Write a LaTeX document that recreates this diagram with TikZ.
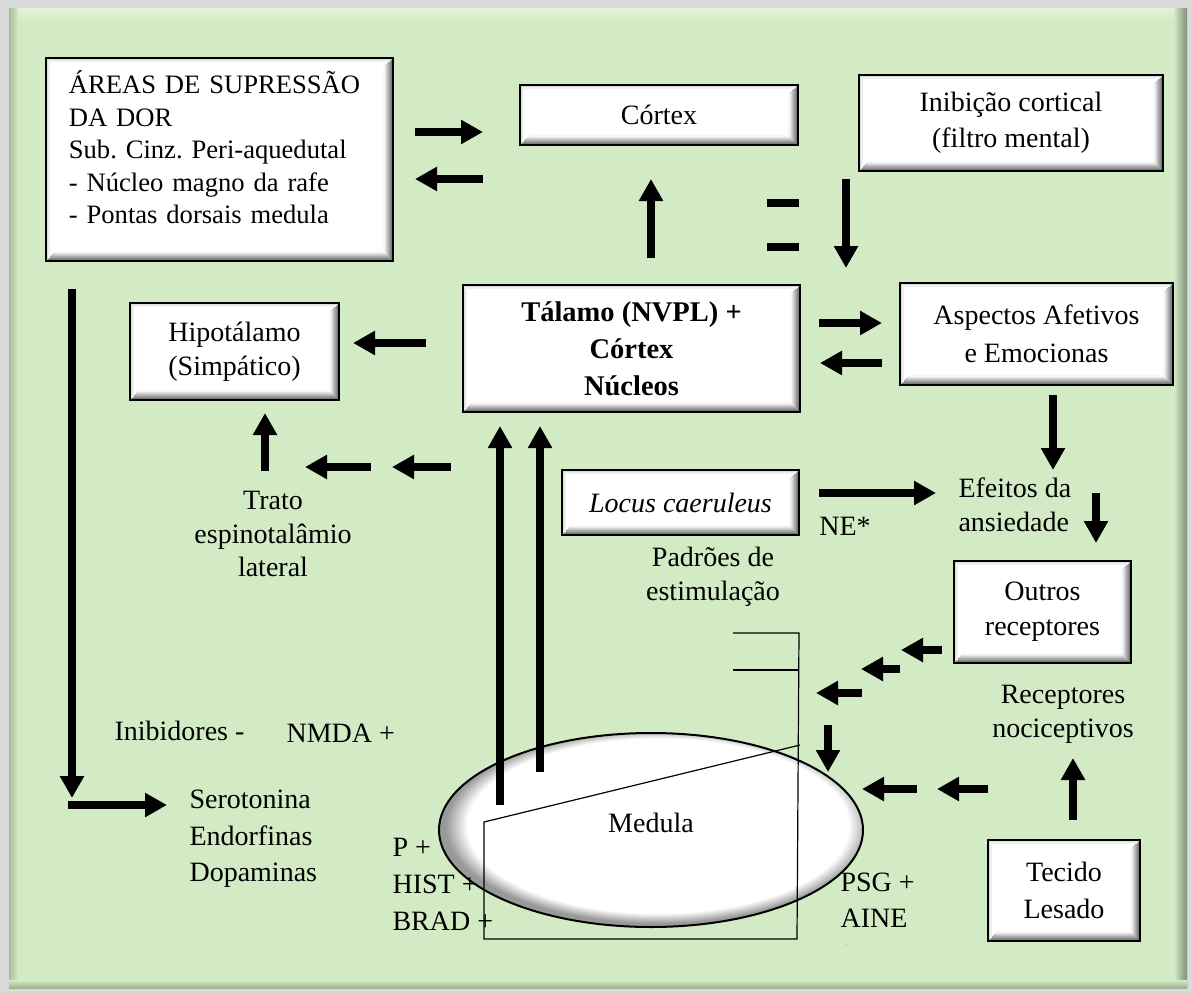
\documentclass[tikz,border=0pt]{standalone}
\usepackage{fontspec}
\setmainfont{Liberation Serif}
\usetikzlibrary{arrows.meta}
\usetikzlibrary{shapes.geometric}
\usetikzlibrary{calc}
\frenchspacing

\definecolor{fundo}{RGB}{210,235,196}
\definecolor{moldura}{RGB}{217,217,217}
\pgfdeclareradialshading{aro}{\pgfpoint{1.5bp}{2bp}}{color(0bp)=(white); color(22.5bp)=(white); color(25bp)=(black!40); color(50bp)=(black!40)}

\tikzset{
  caixa/.style={draw=black, line width=1.8pt, fill=white, align=center, inner sep=0pt,
    path picture={
      \foreach \k [evaluate=\k as \g using int(66-7*\k)] in {1,...,9}
        \draw[black!\g, line width=1.2pt]
          ([xshift=\k pt, yshift=\k pt]path picture bounding box.south west)
          -- ([xshift=-\k pt, yshift=\k pt]path picture bounding box.south east)
          -- ([xshift=-\k pt, yshift=-\k pt]path picture bounding box.north east);
      \foreach \k [evaluate=\k as \g using int(30-8*\k)] in {1,...,3}
        \draw[black!\g, line width=1.2pt]
          ([xshift=\k pt, yshift=\k pt]path picture bounding box.south west)
          -- ([xshift=\k pt, yshift=-\k pt]path picture bounding box.north west)
          -- ([xshift=-\k pt, yshift=-\k pt]path picture bounding box.north east);
    }},
  seta/.style={line width=8.5pt, -{Triangle[width=23pt,length=22pt]}},
  barra/.style={line width=8pt},
  fino/.style={line width=1.2pt}
}

\begin{document}
\begin{tikzpicture}[x=1pt, y=-1pt, font=\fontsize{28}{34}\selectfont]
\useasboundingbox (0,0) rectangle (1192,993);
\fill[moldura] (0,0) rectangle (1192,993);
\fill[fundo] (9,8) rectangle (1187,988);
\shade[top color=fundo!60!white, bottom color=fundo] (9,8) rectangle (1187,20);
\shade[left color=fundo!80!black, right color=fundo] (9,8) rectangle (18,988);
\shade[left color=fundo, right color=fundo!60!black] (1174,8) rectangle (1187,988);
\shade[top color=fundo, bottom color=fundo!75!black] (9,980) rectangle (1187,988);

% caixas
\node[caixa, anchor=north west, text width=301pt, align=left, inner xsep=23pt, inner ysep=12pt,
  text height=24pt, text depth=155pt, font=\fontsize{26.6}{32.5}\selectfont] (areas) at (45,57)
  {ÁREAS DE SUPRESSÃO\\DA DOR\\Sub. Cinz. Peri-aquedutal\\- Núcleo magno da rafe\\- Pontas dorsais medula};
\node[caixa, minimum width=278pt, minimum height=60pt] (cortex) at (659,115) {Córtex};
\node[caixa, minimum width=304pt, minimum height=96pt, font=\fontsize{28}{36}\selectfont] (inibicao) at (1011,123) {Inibição cortical\\(filtro mental)};
\node[caixa, minimum width=273pt, minimum height=102pt, font=\fontsize{28}{38}\selectfont] (aspectos) at (1036.5,334) {Aspectos Afetivos\\e Emocionas};
\node[caixa, minimum width=337pt, minimum height=127pt, font=\fontsize{28.5}{37}\selectfont\bfseries] (talamo) at (631.5,348.5) {Tálamo (NVPL) +\\Córtex\\Núcleos};
\node[caixa, minimum width=209pt, minimum height=97pt] (hipotalamo) at (234.5,351.5) {Hipotálamo\\(Simpático)};
\node[caixa, minimum width=237pt, minimum height=65pt, font=\fontsize{28}{34}\selectfont\itshape] (locus) at (680.5,502.5) {Locus caeruleus};
\node[caixa, minimum width=177pt, minimum height=102pt, font=\fontsize{28}{35}\selectfont] (outros) at (1042.5,612) {Outros\\receptores};
\node[caixa, minimum width=152pt, minimum height=101pt, font=\fontsize{28}{37}\selectfont] (tecido) at (1064,890.5) {Tecido\\Lesado};

\node[draw, ellipse, line width=2pt, minimum width=424pt, minimum height=194pt, inner sep=0pt,
  shade, shading=aro, text depth=14pt] (medula) at (651,830) {Medula};

% textos soltos
\node[align=center, font=\fontsize{28}{33.5}\selectfont] (trato) at (273,534) {Trato\\espinotalâmio\\lateral};
\node[align=center, font=\fontsize{28}{34}\selectfont] (padroes) at (713,577) {Padrões de\\estimulação};
\node (ne) at (845,526) {NE*};
\node[align=left, anchor=west] (efeitos) at (955,505) {Efeitos da\\ansiedade};
\node[align=center] (nocic) at (1063,714) {Receptores\\nociceptivos};
\node[anchor=base west] (inib) at (111,740) {Inibidores -};
\node[anchor=base west] (nmda) at (283,742) {NMDA +};
\node[align=left, anchor=west, font=\fontsize{28}{36.5}\selectfont] (neuro) at (186,839) {Serotonina\\Endorfinas\\Dopaminas};
\node[align=left, anchor=west, font=\fontsize{28}{37}\selectfont] (mediad) at (389,884) {P +\\HIST +\\BRAD +};
\node[align=left, anchor=west, font=\fontsize{28}{36}\selectfont] (psg) at (837,900) {PSG +\\AINE};
\node[font=\tiny] (ponto) at (847,945) {.};

% linhas finas
\coordinate (f1) at (733,633);
\coordinate (f2) at (799,633);
\coordinate (f3) at (733,670);
\coordinate (f4) at (798,670);
\coordinate (f5) at (797,939);
\coordinate (f6) at (484,939);
\coordinate (f7) at (484,822);
\coordinate (f8) at (800,745);
\draw[fino] (f1) -- (f2) -- (f5) -- (f6) -- (f7) -- (f8);
\draw[fino] (f3) -- (f4);

% setas
\coordinate (a1) at (415,132); \coordinate (a2) at (483,132);
\coordinate (b1) at (483,179); \coordinate (b2) at (415,179);
\coordinate (c1) at (651,258); \coordinate (c2) at (651,179);
\coordinate (d1) at (846,179); \coordinate (d2) at (846,268);
\coordinate (e1) at (819,323); \coordinate (e2) at (882,323);
\coordinate (g1) at (882,363); \coordinate (g2) at (820,363);
\coordinate (h1) at (426,343); \coordinate (h2) at (353,343);
\coordinate (i1) at (265,471); \coordinate (i2) at (265,413);
\coordinate (j1) at (371,467); \coordinate (j2) at (305,467);
\coordinate (k1) at (451,467); \coordinate (k2) at (392,467);
\coordinate (m1) at (72,289);  \coordinate (m2) at (72,798);
\coordinate (n1) at (68,805);  \coordinate (n2) at (167,805);
\coordinate (p1) at (500,805); \coordinate (p2) at (500,426);
\coordinate (q1) at (540,772); \coordinate (q2) at (540,426);
\coordinate (r1) at (1053,395); \coordinate (r2) at (1053,470);
\coordinate (s1) at (1096,493); \coordinate (s2) at (1096,543);
\coordinate (t1) at (819,493); \coordinate (t2) at (936,493);
\coordinate (u1) at (942,650); \coordinate (u2) at (901,650);
\coordinate (v1) at (900,669); \coordinate (v2) at (861,669);
\coordinate (w1) at (862,693); \coordinate (w2) at (816,693);
\coordinate (x1) at (828,725); \coordinate (x2) at (828,772);
\coordinate (y1) at (917,789); \coordinate (y2) at (862,789);
\coordinate (z1) at (988,789); \coordinate (z2) at (937,789);
\coordinate (o1) at (1073,820); \coordinate (o2) at (1073,758);

\foreach \de/\para in {a1/a2, b1/b2, c1/c2, d1/d2, e1/e2, g1/g2, h1/h2, i1/i2, j1/j2, k1/k2,
    m1/m2, n1/n2, p1/p2, q1/q2, r1/r2, s1/s2, t1/t2, u1/u2, v1/v2, w1/w2, x1/x2, y1/y2, z1/z2, o1/o2}
  \draw[seta] (\de) -- (\para);

\coordinate (eq1) at (767,203); \coordinate (eq2) at (799,203);
\coordinate (eq3) at (767,247); \coordinate (eq4) at (799,247);
\draw[barra] (eq1) -- (eq2);
\draw[barra] (eq3) -- (eq4);

\end{tikzpicture}
\end{document}
